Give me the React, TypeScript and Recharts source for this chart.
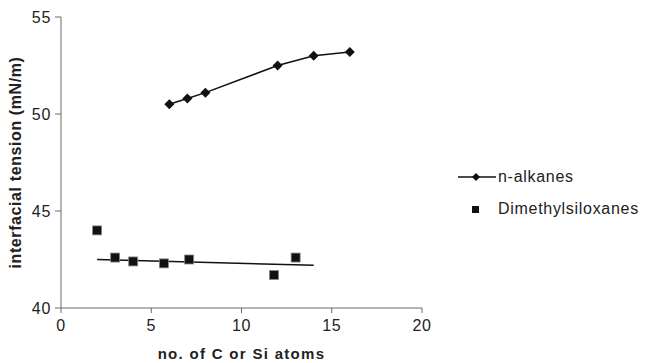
import { ScatterChart, Scatter, XAxis, YAxis, Legend } from 'recharts';

const alkaneCarbons = [6, 7, 8, 12, 14, 16];
const alkaneTension = [50.5, 50.8, 51.1, 52.5, 53.0, 53.2];

const siloxaneSi = [2, 3, 4, 5.7, 7.1, 11.8, 13];
const siloxaneTension = [44.0, 42.6, 42.4, 42.3, 42.5, 41.7, 42.6];

const trendX = [2, 14];
const trendY = [42.5, 42.2];

const xTicks = [0, 5, 10, 15, 20];
const yTicks = [40, 45, 50, 55];

const alkanes = alkaneCarbons.map((x, i) => ({ x, y: alkaneTension[i] }));
const siloxanes = siloxaneSi.map((x, i) => ({ x, y: siloxaneTension[i] }));
const trend = trendX.map((x, i) => ({ x, y: trendY[i] }));

const font = '"Liberation Sans", Arial, sans-serif';
const ink = '#111';
const axisGrey = '#6a6a6a';

const Diamond = (p: any) => (
  <polygon
    points={`${p.cx},${p.cy - 5} ${p.cx + 5},${p.cy} ${p.cx},${p.cy + 5} ${p.cx - 5},${p.cy}`}
    fill={ink}
  />
);

const Square = (p: any) => (
  <rect x={p.cx - 4.5} y={p.cy - 4.5} width={9} height={9} fill={ink} stroke="#888" strokeWidth={0.8} />
);

const NoDot = () => <g />;

const LegendBox = () => (
  <div style={{ fontFamily: font, fontSize: 16, letterSpacing: 0.7, color: '#222' }}>
    <div style={{ display: 'flex', alignItems: 'center', height: 20 }}>
      <svg width={40} height={12}>
        <line x1={0} y1={6} x2={38} y2={6} stroke={ink} strokeWidth={1.5} />
        <polygon points="18,2 22,6 18,10 14,6" fill={ink} />
      </svg>
      <span>n-alkanes</span>
    </div>
    <div style={{ display: 'flex', alignItems: 'center', height: 20, marginTop: 12 }}>
      <svg width={40} height={12}>
        <rect x={14} y={3} width={7} height={7} fill={ink} />
      </svg>
      <span>Dimethylsiloxanes</span>
    </div>
  </div>
);

export default function App() {
  return (
    <div style={{ position: 'absolute', left: 0, top: 0, width: 646, height: 363, background: '#fff' }}>
      <ScatterChart width={646} height={363} margin={{ top: 17, right: 224, bottom: 25, left: 0 }}>
        <XAxis
          type="number"
          dataKey="x"
          domain={[0, 20]}
          ticks={xTicks}
          height={30}
          tickSize={5}
          tickMargin={7}
          axisLine={{ stroke: axisGrey }}
          tickLine={{ stroke: axisGrey }}
          tick={{ fill: '#222', fontSize: 16, fontFamily: font, letterSpacing: 0.7 }}
          label={{
            value: 'no. of C or Si atoms',
            position: 'bottom',
            offset: 10,
            style: { fill: '#222', fontSize: 15, fontWeight: 'bold', fontFamily: font, letterSpacing: 1.3 },
          }}
        />
        <YAxis
          type="number"
          dataKey="y"
          domain={[40, 55]}
          ticks={yTicks}
          width={61}
          tickSize={6}
          tickMargin={4}
          axisLine={{ stroke: axisGrey }}
          tickLine={{ stroke: axisGrey }}
          tick={{ fill: '#222', fontSize: 16, fontFamily: font, letterSpacing: 0.7 }}
          label={{
            value: 'interfacial tension (mN/m)',
            angle: -90,
            position: 'insideLeft',
            offset: 15,
            style: { textAnchor: 'middle', fill: '#222', fontSize: 16, fontWeight: 'bold', fontFamily: font, letterSpacing: 0.6 },
          }}
        />
        <Legend
          layout="horizontal"
          align="center"
          verticalAlign="middle"
          content={LegendBox}
          wrapperStyle={{ left: 458, top: 167, width: 190 }}
        />
        <Scatter
          name="n-alkanes"
          data={alkanes}
          line={{ stroke: ink, strokeWidth: 1.5 }}
          shape={Diamond}
          isAnimationActive={false}
        />
        <Scatter
          name="trend"
          data={trend}
          line={{ stroke: ink, strokeWidth: 1.5 }}
          shape={NoDot}
          legendType="none"
          isAnimationActive={false}
        />
        <Scatter
          name="Dimethylsiloxanes"
          data={siloxanes}
          shape={Square}
          isAnimationActive={false}
        />
      </ScatterChart>
    </div>
  );
}
